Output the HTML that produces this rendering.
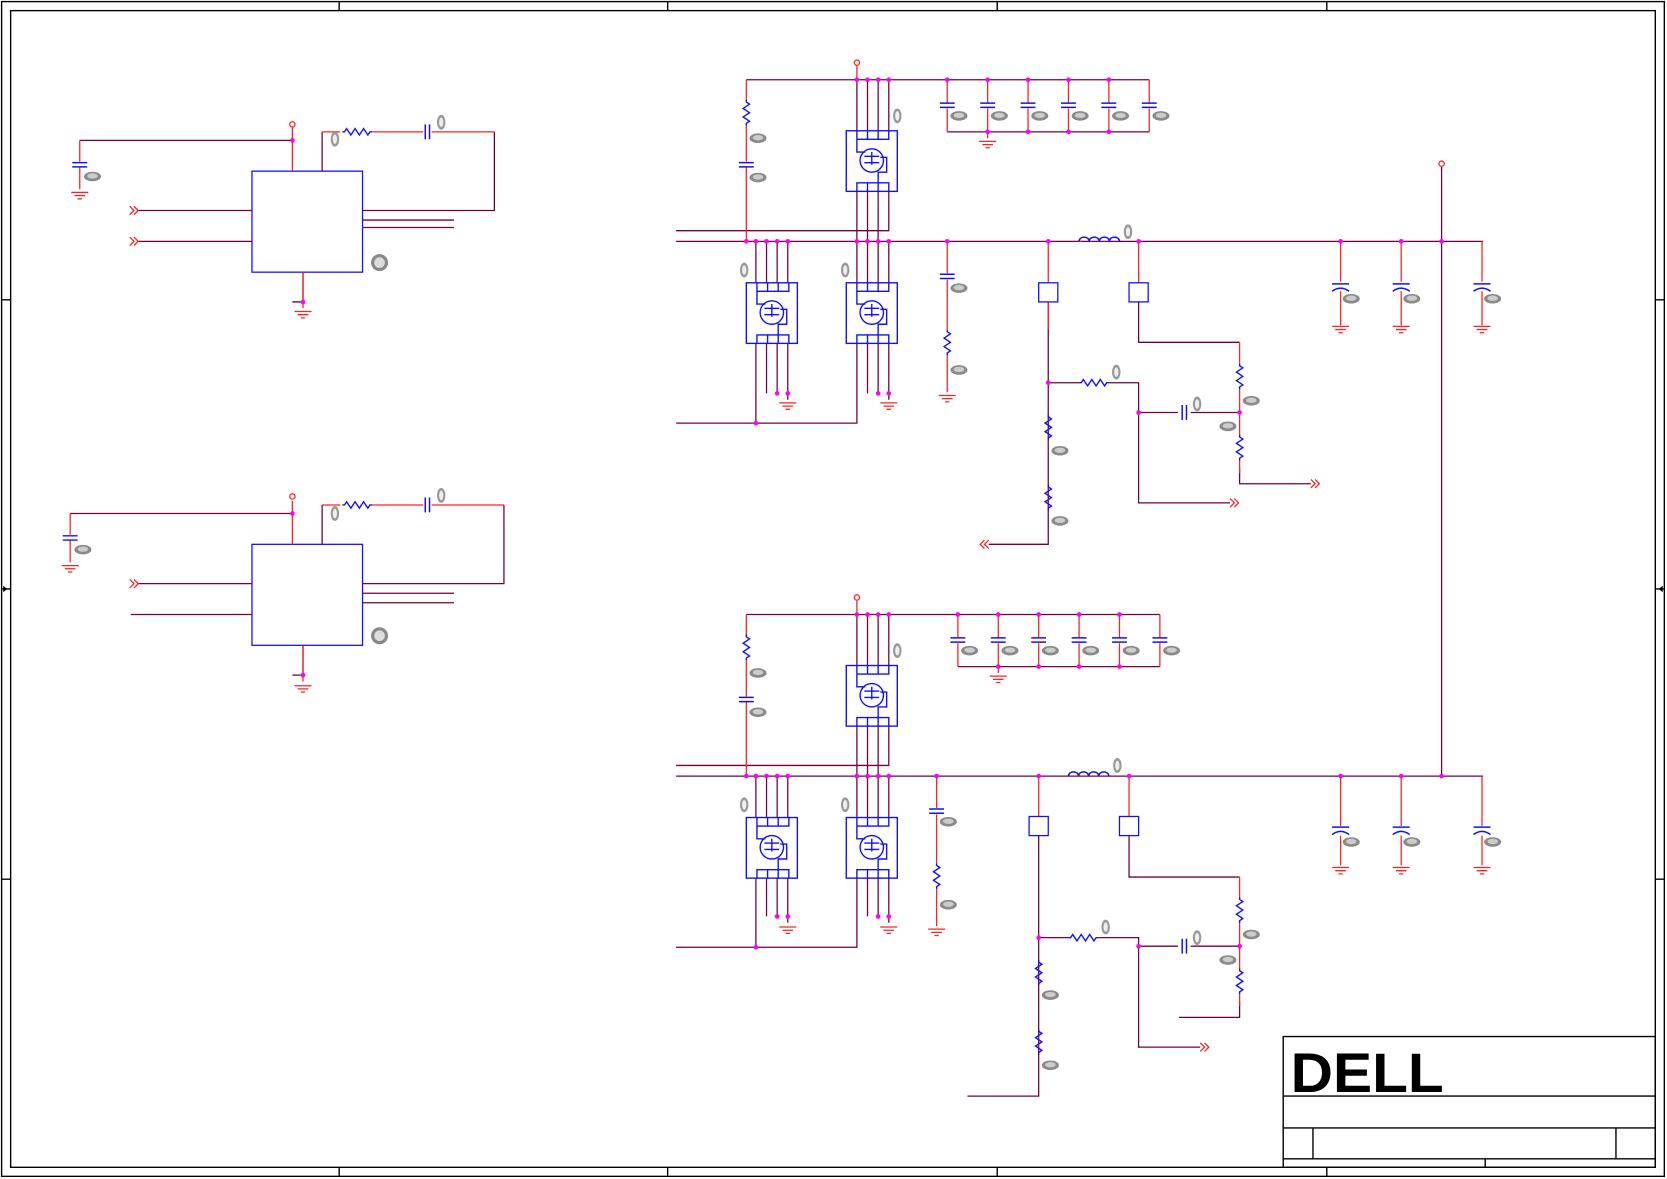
<!DOCTYPE html>
<html><head><meta charset="utf-8"><style>html,body{margin:0;padding:0;background:#fff}svg{display:block}</style></head><body>
<svg width="1667" height="1179" viewBox="0 0 1568 1109" xmlns="http://www.w3.org/2000/svg">
<defs>
<path id="rv" d="M0,-12 v2 l3,2 l-6,4 l6,4 l-6,4 l6,4 l-3,2 v2" fill="none" stroke="#1010ff" stroke-width="1.3"/>
<path id="rh" d="M-14,0 h2 l2,-3 l4,6 l4,-6 l4,6 l4,-6 l4,6 l2,-3 h2" fill="none" stroke="#1010ff" stroke-width="1.3"/>
<path id="cv" d="M-7,-2 h14 M-7,2 h14" stroke="#1010ff" stroke-width="1.4"/>
<path id="ch" d="M-2,-7 v14 M2,-7 v14" stroke="#1010ff" stroke-width="1.4"/>
<path id="pc" d="M-8,-3 h16 M-8,4 Q0,-2 8,4" fill="none" stroke="#1010ff" stroke-width="1.4"/>
<path id="gnd" d="M-8,0 h16 M-5,3 h10 M-2,6 h4" stroke="#ff2020" stroke-width="1.2"/>
<path id="ind" d="M-19,0 a4.75,4 0 0 1 9.5,0 a4.75,4 0 0 1 9.5,0 a4.75,4 0 0 1 9.5,0 a4.75,4 0 0 1 9.5,0" fill="none" stroke="#1010ff" stroke-width="1.4"/>
<g id="blob"><ellipse cx="0" cy="0" rx="8" ry="4.5" fill="#8a8a8a"/><ellipse cx="0" cy="-0.5" rx="5" ry="2.5" fill="#ccc"/></g>
<g id="tag"><ellipse cx="0" cy="0" rx="4" ry="7" fill="#999"/><ellipse cx="0" cy="0" rx="2" ry="4.5" fill="#eee"/></g>
<g id="arr"><path d="M0,-4 l4,4 l-4,4 M4,-4 l4,4 l-4,4" fill="none" stroke="#ff2020" stroke-width="1.2"/></g>
<g id="arrl"><path d="M8,-4 l-4,4 l4,4 M4,-4 l-4,4 l4,4" fill="none" stroke="#ff2020" stroke-width="1.2"/></g>
<g id="fet" fill="none" stroke="#1010ff" stroke-width="1.3">
<rect x="0" y="0" width="48" height="57"/>
<path d="M10,0 v8 h30 v-8 M20,0 v8 M30,0 v8 M10,57 v-8 h30 v8 M20,57 v-8 M30,57 v-8 M10,8 v12 h8 M30,49 v-10 h8 v-14 h-6"/>
<circle cx="24" cy="28" r="11"/>
<path d="M17,24 h14 M17,30 h14 M24,20 v12"/>
</g>
<circle id="d" r="2.2" fill="#ff00ff"/>
</defs>
<rect width="1568" height="1109" fill="#fff"/>
<!-- frame -->
<g stroke="#000" fill="none" stroke-width="1.3">
<rect x="1.5" y="1.5" width="1564" height="1105"/>
<rect x="10" y="10" width="1547" height="1088"/>
<path d="M319,1.5v8.5 M628,1.5v8.5 M938,1.5v8.5 M1248,1.5v8.5 M319,1098v9 M628,1098v9 M938,1098v9 M1248,1098v9 M1.5,282h8.5 M1.5,554h8.5 M1.5,827h8.5 M1557,282h9 M1557,554h9 M1557,827h9"/>
<rect x="1207" y="975" width="350" height="123"/>
<path d="M1207,1031h350 M1207,1061h350 M1207,1090h350 M1235,1061v29 M1520,1061v29 M1397,1090v8"/>
</g>
<path d="M3,551 l4,3 l-4,3z M1564,551 l-4,3 l4,3z" fill="#000"/>
<text x="1214" y="1027" font-family="Liberation Sans, sans-serif" font-weight="bold" font-size="52" textLength="144" lengthAdjust="spacingAndGlyphs" fill="#000">DELL</text>

<!-- LEFT BLOCK 1 -->
<g fill="none" stroke-width="1.2">
<rect x="237" y="161" width="104" height="95" stroke="#1010ff"/>
<path stroke="#750040" d="M75,132 H275 M303,124 V161 M465,124 V198 H341 M341,207 H427 M341,214 H427 M130,198 H237 M130,227 H237 M275,284 H285 V256"/>
<path stroke="#ff2020" d="M275,120 V161 M75,132 V152 M75,157 V178 M303,124 H320 M350,124 H398 M406,124 H465 M285,256 V290"/>
<circle cx="275" cy="117" r="2.5" stroke="#ff2020"/>
</g>
<use href="#cv" x="75" y="155"/><use href="#gnd" x="75" y="181"/><use href="#rh" x="336" y="124"/><use href="#ch" x="402" y="124"/><use href="#gnd" x="285" y="293"/>
<use href="#d" x="275" y="132"/><use href="#d" x="285" y="284"/>
<use href="#arr" x="122" y="198"/><use href="#arr" x="122" y="227"/>
<use href="#blob" x="87" y="166"/><use href="#tag" x="315" y="131"/><use href="#tag" x="415" y="115"/>
<circle cx="357" cy="247" r="8" fill="#888"/><circle cx="357" cy="247" r="5" fill="#ddd"/>

<!-- LEFT BLOCK 2 -->
<g fill="none" stroke-width="1.2">
<rect x="237" y="512" width="104" height="95" stroke="#1010ff"/>
<path stroke="#750040" d="M66,483 H275 M303,475 V512 M474,475 V549 H341 M341,558 H427 M341,567 H427 M130,549 H237 M123,578 H237 M275,635 H285 V607"/>
<path stroke="#ff2020" d="M275,471 V512 M66,483 V503 M66,508 V529 M303,475 H320 M350,475 H398 M406,475 H474 M285,607 V641"/>
<circle cx="275" cy="467" r="2.5" stroke="#ff2020"/>
</g>
<use href="#cv" x="66" y="506"/><use href="#gnd" x="66" y="532"/><use href="#rh" x="336" y="475"/><use href="#ch" x="402" y="475"/><use href="#gnd" x="285" y="645"/>
<use href="#d" x="275" y="483"/><use href="#d" x="285" y="635"/>
<use href="#arr" x="122" y="549"/>
<use href="#blob" x="78" y="517"/><use href="#tag" x="315" y="483"/><use href="#tag" x="415" y="466"/>
<circle cx="357" cy="598" r="8" fill="#888"/><circle cx="357" cy="598" r="5" fill="#ddd"/>

<!-- PHASE 1 -->
<g fill="none" stroke-width="1.2">
<path stroke="#750040" d="M702,75 H1081 M891,124 H1081 M636,217 H836 V180 M636,227 H1395 M636,398 H806 V323 M711,323 V398 M986,284 V512 H930 M986,360 H1015 M1043,360 H1071 V473 H1157 M1071,388 H1108 M1120,388 H1166 M1071,284 V322 H1166 M1166,440 V455 H1233 M1356,157 V730"/>
<path stroke="#750040" d="M806,75V123 M816,75V123 M826,75V123 M836,75V123 M806,180V227 M816,180V227 M826,180V227 M711,227V266 M721,227V266 M731,227V266 M741,227V266 M721,323V370 M731,323V370 M741,323V376 M806,227V266 M816,227V266 M826,227V266 M836,227V266 M816,323V370 M826,323V370 M836,323V376"/>
<path stroke="#ff2020" d="M891,75V97 M891,102V124 M929,75V97 M929,102V130 M967,75V97 M967,102V124 M1005,75V97 M1005,102V124 M1043,75V97 M1043,102V124 M1081,75V97 M1081,102V124 M702,75V95 M702,118V152 M702,157V227 M891,227V257 M891,263V310 M891,333V369 M986,227V266 M1071,227V266 M986,284V310 M1015,227H1017 M1261,227V265 M1261,274V306 M1318,227V265 M1318,274V306 M1394,227V265 M1394,274V306 M1166,322V342 M1166,365V410 M1166,432V445"/>
<rect x="977" y="266" width="18" height="18" stroke="#1010ff"/><rect x="1062" y="266" width="18" height="18" stroke="#1010ff"/>
<circle cx="806" cy="59" r="2.5" stroke="#ff2020"/><path stroke="#ff2020" d="M806,62V75"/>
<circle cx="1356" cy="154" r="2.5" stroke="#ff2020"/>
</g>
<use href="#fet" x="796" y="123"/><use href="#fet" x="702" y="266"/><use href="#fet" x="796" y="266"/>
<use href="#cv" x="891" y="99"/><use href="#cv" x="929" y="99"/><use href="#cv" x="967" y="99"/><use href="#cv" x="1005" y="99"/><use href="#cv" x="1043" y="99"/><use href="#cv" x="1081" y="99"/>
<use href="#gnd" x="929" y="133"/><use href="#rv" x="702" y="106"/><use href="#cv" x="702" y="155"/>
<use href="#gnd" x="741" y="379"/><use href="#gnd" x="836" y="379"/><use href="#cv" x="891" y="260"/><use href="#rv" x="891" y="322"/><use href="#gnd" x="891" y="372"/>
<use href="#ind" x="1034" y="227"/><use href="#rh" x="1029" y="360"/><use href="#ch" x="1114" y="388"/>
<use href="#rv" x="1166" y="354"/><use href="#rv" x="1166" y="421"/><use href="#rv" x="986" y="402"/><use href="#rv" x="986" y="468"/>
<use href="#arr" x="1233" y="455"/><use href="#arr" x="1157" y="473"/><use href="#arrl" x="922" y="512"/>
<use href="#pc" x="1261" y="270"/><use href="#pc" x="1318" y="270"/><use href="#pc" x="1394" y="270"/>
<use href="#gnd" x="1261" y="307"/><use href="#gnd" x="1318" y="307"/><use href="#gnd" x="1394" y="307"/>
<g>
<use href="#d" x="806" y="75"/><use href="#d" x="816" y="75"/><use href="#d" x="826" y="75"/><use href="#d" x="836" y="75"/><use href="#d" x="891" y="75"/><use href="#d" x="929" y="75"/><use href="#d" x="967" y="75"/><use href="#d" x="1005" y="75"/><use href="#d" x="1043" y="75"/>
<use href="#d" x="929" y="124"/><use href="#d" x="967" y="124"/><use href="#d" x="1005" y="124"/><use href="#d" x="1043" y="124"/>
<use href="#d" x="702" y="227"/><use href="#d" x="711" y="227"/><use href="#d" x="721" y="227"/><use href="#d" x="731" y="227"/><use href="#d" x="741" y="227"/><use href="#d" x="806" y="227"/><use href="#d" x="816" y="227"/><use href="#d" x="826" y="227"/><use href="#d" x="836" y="227"/><use href="#d" x="891" y="227"/><use href="#d" x="986" y="227"/><use href="#d" x="1071" y="227"/><use href="#d" x="1261" y="227"/><use href="#d" x="1318" y="227"/><use href="#d" x="1356" y="227"/>
<use href="#d" x="731" y="370"/><use href="#d" x="741" y="370"/><use href="#d" x="826" y="370"/><use href="#d" x="836" y="370"/><use href="#d" x="711" y="398"/>
<use href="#d" x="986" y="360"/><use href="#d" x="1071" y="388"/><use href="#d" x="1166" y="388"/>
</g>
<use href="#blob" x="713" y="130"/><use href="#blob" x="713" y="167"/><use href="#tag" x="844" y="109"/><use href="#tag" x="700" y="254"/><use href="#tag" x="795" y="254"/>
<use href="#blob" x="902" y="109"/><use href="#blob" x="940" y="109"/><use href="#blob" x="978" y="109"/><use href="#blob" x="1016" y="109"/><use href="#blob" x="1054" y="109"/><use href="#blob" x="1092" y="109"/>
<use href="#blob" x="902" y="271"/><use href="#blob" x="902" y="348"/><use href="#tag" x="1061" y="218"/><use href="#tag" x="1050" y="350"/><use href="#tag" x="1126" y="380"/>
<use href="#blob" x="1177" y="377"/><use href="#blob" x="1155" y="401"/><use href="#blob" x="997" y="424"/><use href="#blob" x="997" y="490"/>
<use href="#blob" x="1271" y="281"/><use href="#blob" x="1328" y="281"/><use href="#blob" x="1404" y="281"/>

<!-- PHASE 2 -->
<g fill="none" stroke-width="1.2">
<path stroke="#750040" d="M702,578 H1091 M901,627 H1091 M636,720 H836 V683 M636,730 H1395 M636,891 H806 V826 M711,826 V891 M977,786 V1031 H910 M977,882 H1005 M1033,882 H1071 V985 H1129 M1071,890 H1108 M1120,890 H1166 M1062,786 V825 H1166 M1166,942 V957 H1109"/>
<path stroke="#750040" d="M806,578V626 M816,578V626 M826,578V626 M836,578V626 M806,683V730 M816,683V730 M826,683V730 M711,730V769 M721,730V769 M731,730V769 M741,730V769 M721,826V862 M731,826V862 M741,826V868 M806,730V769 M816,730V769 M826,730V769 M836,730V769 M816,826V862 M826,826V862 M836,826V868"/>
<path stroke="#ff2020" d="M901,578V600 M901,605V627 M939,578V600 M939,605V633 M977,578V600 M977,605V627 M1015,578V600 M1015,605V627 M1053,578V600 M1053,605V627 M1091,578V600 M1091,605V627 M702,578V598 M702,621V655 M702,660V730 M881,730V760 M881,766V812 M881,835V871 M977,730V768 M1062,730V768 M1261,730V777 M1261,786V814 M1318,730V777 M1318,786V814 M1394,730V777 M1394,786V814 M1166,825V845 M1166,867V912 M1166,934V946"/>
<rect x="968" y="768" width="18" height="18" stroke="#1010ff"/><rect x="1053" y="768" width="18" height="18" stroke="#1010ff"/>
<circle cx="806" cy="562" r="2.5" stroke="#ff2020"/><path stroke="#ff2020" d="M806,565V578"/>
</g>
<use href="#fet" x="796" y="626"/><use href="#fet" x="702" y="769"/><use href="#fet" x="796" y="769"/>
<use href="#cv" x="901" y="602"/><use href="#cv" x="939" y="602"/><use href="#cv" x="977" y="602"/><use href="#cv" x="1015" y="602"/><use href="#cv" x="1053" y="602"/><use href="#cv" x="1091" y="602"/>
<use href="#gnd" x="939" y="636"/><use href="#rv" x="702" y="609"/><use href="#cv" x="702" y="658"/>
<use href="#gnd" x="741" y="872"/><use href="#gnd" x="836" y="872"/><use href="#cv" x="881" y="763"/><use href="#rv" x="881" y="824"/><use href="#gnd" x="881" y="874"/>
<use href="#ind" x="1024" y="730"/><use href="#rh" x="1019" y="882"/><use href="#ch" x="1114" y="890"/>
<use href="#rv" x="1166" y="856"/><use href="#rv" x="1166" y="923"/><use href="#rv" x="977" y="915"/><use href="#rv" x="977" y="980"/>
<use href="#arr" x="1129" y="985"/>
<use href="#pc" x="1261" y="781"/><use href="#pc" x="1318" y="781"/><use href="#pc" x="1394" y="781"/>
<use href="#gnd" x="1261" y="816"/><use href="#gnd" x="1318" y="816"/><use href="#gnd" x="1394" y="816"/>
<g>
<use href="#d" x="806" y="578"/><use href="#d" x="816" y="578"/><use href="#d" x="826" y="578"/><use href="#d" x="836" y="578"/><use href="#d" x="901" y="578"/><use href="#d" x="939" y="578"/><use href="#d" x="977" y="578"/><use href="#d" x="1015" y="578"/><use href="#d" x="1053" y="578"/>
<use href="#d" x="939" y="627"/><use href="#d" x="977" y="627"/><use href="#d" x="1015" y="627"/><use href="#d" x="1053" y="627"/>
<use href="#d" x="702" y="730"/><use href="#d" x="711" y="730"/><use href="#d" x="721" y="730"/><use href="#d" x="731" y="730"/><use href="#d" x="741" y="730"/><use href="#d" x="806" y="730"/><use href="#d" x="816" y="730"/><use href="#d" x="826" y="730"/><use href="#d" x="836" y="730"/><use href="#d" x="881" y="730"/><use href="#d" x="977" y="730"/><use href="#d" x="1062" y="730"/><use href="#d" x="1261" y="730"/><use href="#d" x="1318" y="730"/><use href="#d" x="1356" y="730"/>
<use href="#d" x="731" y="862"/><use href="#d" x="741" y="862"/><use href="#d" x="826" y="862"/><use href="#d" x="836" y="862"/><use href="#d" x="711" y="891"/>
<use href="#d" x="977" y="882"/><use href="#d" x="1071" y="890"/><use href="#d" x="1166" y="890"/>
</g>
<use href="#blob" x="713" y="633"/><use href="#blob" x="713" y="670"/><use href="#tag" x="844" y="612"/><use href="#tag" x="700" y="757"/><use href="#tag" x="795" y="757"/>
<use href="#blob" x="912" y="612"/><use href="#blob" x="950" y="612"/><use href="#blob" x="988" y="612"/><use href="#blob" x="1026" y="612"/><use href="#blob" x="1064" y="612"/><use href="#blob" x="1102" y="612"/>
<use href="#blob" x="892" y="773"/><use href="#blob" x="892" y="851"/><use href="#tag" x="1051" y="720"/><use href="#tag" x="1040" y="872"/><use href="#tag" x="1126" y="882"/>
<use href="#blob" x="1177" y="879"/><use href="#blob" x="1155" y="903"/><use href="#blob" x="988" y="936"/><use href="#blob" x="988" y="1002"/>
<use href="#blob" x="1271" y="792"/><use href="#blob" x="1328" y="792"/><use href="#blob" x="1404" y="792"/>
</svg>
</body></html>
